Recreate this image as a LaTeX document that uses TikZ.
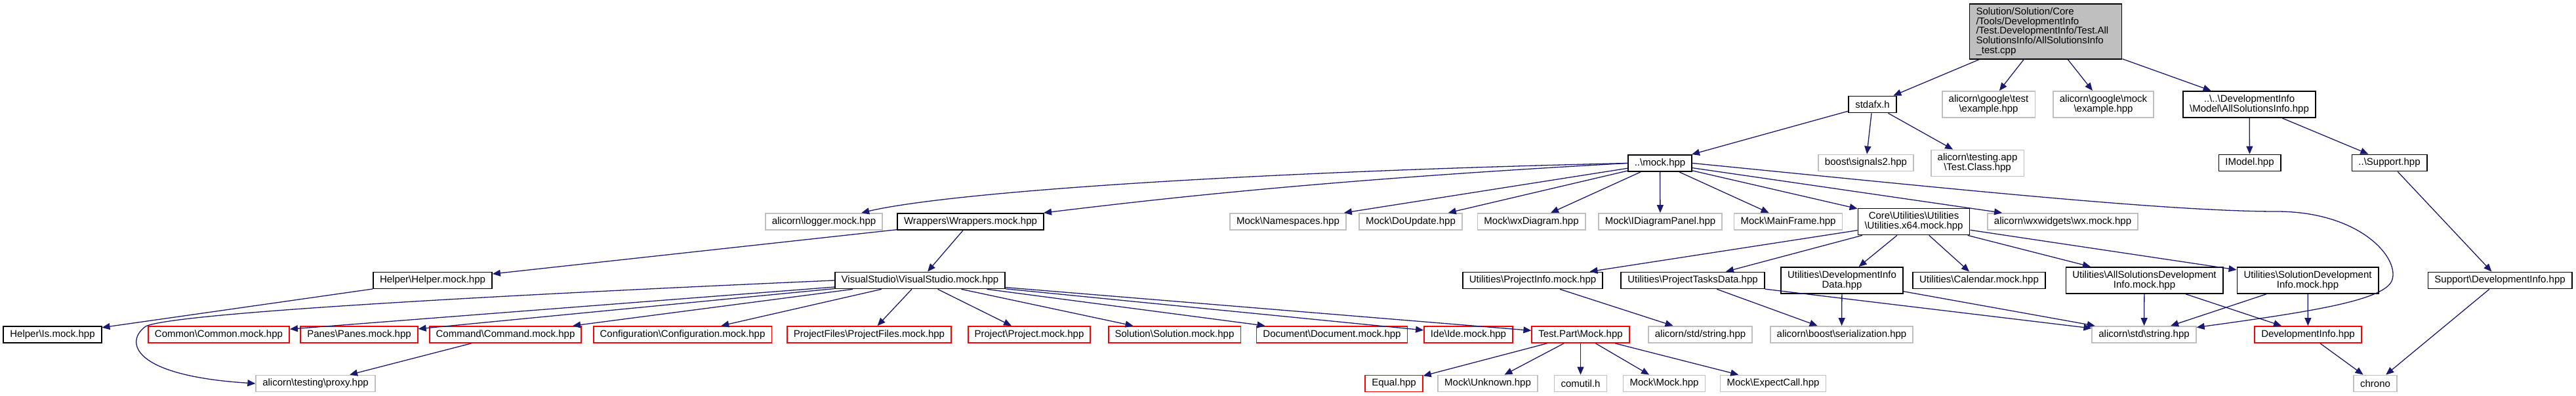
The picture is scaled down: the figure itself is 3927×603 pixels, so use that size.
\documentclass[tikz,border=0pt]{standalone}
\usepackage{fontspec}
\setmainfont{Liberation Sans}
\usetikzlibrary{arrows.meta, positioning}
\definecolor{edgeblue}{HTML}{191970}
\definecolor{extframe}{HTML}{BFBFBF}
\definecolor{rootfill}{HTML}{BFBFBF}

\begin{document}
\begin{tikzpicture}[x=0.5pt, y=-0.5pt,
			every node/.style={font=\fontsize{7.5}{7.4}\selectfont, inner xsep=5pt,
				inner ysep=0pt, minimum height=12.5pt, align=center},
			box/.style={draw=black, line width=0.9pt, fill=white},
			ext/.style={draw=extframe, line width=0.9pt, fill=white},
			miss/.style={draw=red, line width=0.9pt, fill=white},
			twoline/.style={minimum height=20pt},
			arr/.style={-{Triangle[length=6pt, width=5pt]}, draw=edgeblue, line width=0.65pt},
			]
			\useasboundingbox (0,0) rectangle (3927,603);

			% Root
			\node[box, fill=rootfill, minimum height=42pt, text width=106pt, align=left] (root) at (3118.5,48)
			{Solution/Solution/Core\\/Tools/DevelopmentInfo\\/Test.DevelopmentInfo/Test.All\\SolutionsInfo/AllSolutionsInfo\par\centering\_test.cpp};

			% First level
			\node[box] (stdafx) at (2854.5,159) {stdafx.h};
			\node[ext, twoline] (gtest) at (3031.5,159) {alicorn\textbackslash google\textbackslash test\\\textbackslash example.hpp};
			\node[ext, twoline] (gmock) at (3206.5,159) {alicorn\textbackslash google\textbackslash mock\\\textbackslash example.hpp};
			\node[box, twoline] (allinfo) at (3429,159) {..\textbackslash ..\textbackslash DevelopmentInfo\\\textbackslash Model\textbackslash AllSolutionsInfo.hpp};

			% Second level
			\node[box] (mockhpp) at (2530.5,248.5) {..\textbackslash mock.hpp};
			\node[ext] (signals) at (2844.5,248) {boost\textbackslash signals2.hpp};
			\node[ext, twoline] (testclass) at (3014.5,248.5) {alicorn\textbackslash testing.app\\\textbackslash Test.Class.hpp};
			\node[box] (imodel) at (3429.5,248) {IModel.hpp};
			\node[box] (support) at (3642.5,248) {..\textbackslash Support.hpp};

			% Third level
			\node[ext] (logger) at (1256,337.5) {alicorn\textbackslash logger.mock.hpp};
			\node[box] (wrappers) at (1479.5,337.5) {Wrappers\textbackslash Wrappers.mock.hpp};
			\node[ext] (namespaces) at (1963.5,337.5) {Mock\textbackslash Namespaces.hpp};
			\node[ext] (doupdate) at (2150.5,337.5) {Mock\textbackslash DoUpdate.hpp};
			\node[ext] (wxdiagram) at (2334.5,337.5) {Mock\textbackslash wxDiagram.hpp};
			\node[ext] (diagpanel) at (2531,337.5) {Mock\textbackslash IDiagramPanel.hpp};
			\node[ext] (mainframe) at (2726,337.5) {Mock\textbackslash MainFrame.hpp};
			\node[box, twoline] (utilx) at (2917.5,337.5) {Core\textbackslash Utilities\textbackslash Utilities\\\textbackslash Utilities.x64.mock.hpp};
			\node[ext] (wxmock) at (3144.5,337.5) {alicorn\textbackslash wxwidgets\textbackslash wx.mock.hpp};

			% Fourth level
			\node[box] (helper) at (659.5,427) {Helper\textbackslash Helper.mock.hpp};
			\node[box] (vstudio) at (1402.5,427) {VisualStudio\textbackslash VisualStudio.mock.hpp};
			\node[box] (projinfo) at (2336.5,427) {Utilities\textbackslash ProjectInfo.mock.hpp};
			\node[box] (tasks) at (2580.5,427) {Utilities\textbackslash ProjectTasksData.hpp};
			\node[box, twoline] (devdata) at (2808,427) {Utilities\textbackslash DevelopmentInfo\\Data.hpp};
			\node[box] (calendar) at (3017,427) {Utilities\textbackslash Calendar.mock.hpp};
			\node[box, twoline] (alldev) at (3269,427) {Utilities\textbackslash AllSolutionsDevelopment\\Info.mock.hpp};
			\node[box, twoline] (soldev) at (3518,427) {Utilities\textbackslash SolutionDevelopment\\Info.mock.hpp};
			\node[box] (supdev) at (3811,427) {Support\textbackslash DevelopmentInfo.hpp};

			% Fifth level
			\node[box] (ismock) at (80,509.5) {Helper\textbackslash Is.mock.hpp};
			\node[miss] (common) at (333.5,509.5) {Common\textbackslash Common.mock.hpp};
			\node[miss] (panes) at (547.5,509.5) {Panes\textbackslash Panes.mock.hpp};
			\node[miss] (command) at (770.5,509.5) {Command\textbackslash Command.mock.hpp};
			\node[miss] (config) at (1040.5,509.5) {Configuration\textbackslash Configuration.mock.hpp};
			\node[miss] (projfiles) at (1325,509.5) {ProjectFiles\textbackslash ProjectFiles.mock.hpp};
			\node[miss] (project) at (1569,509.5) {Project\textbackslash Project.mock.hpp};
			\node[miss] (solution) at (1790.5,509.5) {Solution\textbackslash Solution.mock.hpp};
			\node[miss] (document) at (2030.5,509.5) {Document\textbackslash Document.mock.hpp};
			\node[miss] (ide) at (2238.5,509.5) {Ide\textbackslash Ide.mock.hpp};
			\node[miss] (testpart) at (2409.5,509.5) {Test.Part\textbackslash Mock.hpp};
			\node[ext] (strslash) at (2592,509.5) {alicorn/std/string.hpp};
			\node[ext] (serial) at (2807.5,509.5) {alicorn\textbackslash boost\textbackslash serialization.hpp};
			\node[ext] (strhpp) at (3268.5,509.5) {alicorn\textbackslash std\textbackslash string.hpp};
			\node[miss] (devinfo) at (3518.5,509.5) {DevelopmentInfo.hpp};

			% Last level
			\node[ext] (proxy) at (481,584) {alicorn\textbackslash testing\textbackslash proxy.hpp};
			\node[miss] (equal) at (2125,584) {Equal.hpp};
			\node[ext] (unknown) at (2268,584) {Mock\textbackslash Unknown.hpp};
			\node[ext] (comutil) at (2409.5,584) {comutil.h};
			\node[ext] (mockmock) at (2537,584) {Mock\textbackslash Mock.hpp};
			\node[ext] (expect) at (2703,584) {Mock\textbackslash ExpectCall.hpp};
			\node[ext] (chrono) at (3621,584) {chrono};

			% Arrows from the test file
			\draw[arr] (root) -- (stdafx);
			\draw[arr] (root) -- (gtest);
			\draw[arr] (root) -- (gmock);
			\draw[arr] (root) -- (allinfo);
			\draw[arr] (stdafx) -- (mockhpp);
			\draw[arr] (stdafx) -- (signals);
			\draw[arr] (stdafx) -- (testclass);
			\draw[arr] (allinfo) -- (imodel);
			\draw[arr] (allinfo) -- (support);
			\draw[arr] (support) -- (supdev);
			\draw[arr] (supdev) -- (chrono);

			% Arrows from mock.hpp
			\draw[arr] (mockhpp.west) .. controls (1900,262) and (1450,292) .. (logger);
			\draw[arr] (mockhpp.west) .. controls (2000,275) and (1750,305) .. (wrappers);
			\draw[arr] (mockhpp) -- (namespaces);
			\draw[arr] (mockhpp) -- (doupdate);
			\draw[arr] (mockhpp) -- (wxdiagram);
			\draw[arr] (mockhpp) -- (diagpanel);
			\draw[arr] (mockhpp) -- (mainframe);
			\draw[arr] (mockhpp) -- (utilx);
			\draw[arr] (mockhpp) -- (wxmock);
			\draw[arr] (mockhpp.east) .. controls (2950,285) and (3300,322) .. (3470,322)
				.. controls (3600,322) and (3660,395) .. (3646,428)
				.. controls (3632,458) and (3520,475) .. (strhpp);

			% Wrappers and Visual Studio
			\draw[arr] (wrappers) -- (helper);
			\draw[arr] (wrappers) -- (vstudio);
			\draw[arr] (helper) -- (ismock);
			\draw[arr] (vstudio.west) .. controls (700,452) and (260,478) .. (222,497)
				.. controls (190,520) and (200,572) .. (proxy.west);
			\draw[arr] (vstudio) -- (common);
			\draw[arr] (vstudio) -- (panes);
			\draw[arr] (vstudio) -- (command);
			\draw[arr] (vstudio) -- (config);
			\draw[arr] (vstudio) -- (projfiles);
			\draw[arr] (vstudio) -- (project);
			\draw[arr] (vstudio) -- (solution);
			\draw[arr] (vstudio) -- (document);
			\draw[arr] (vstudio) -- (ide);
			\draw[arr] (vstudio) -- (testpart);
			\draw[arr] (command) -- (proxy);
			\draw[arr] (testpart) -- (equal);
			\draw[arr] (testpart) -- (unknown);
			\draw[arr] (testpart) -- (comutil);
			\draw[arr] (testpart) -- (mockmock);
			\draw[arr] (testpart) -- (expect);

			% Utilities
			\draw[arr] (utilx) -- (projinfo);
			\draw[arr] (utilx) -- (tasks);
			\draw[arr] (utilx) -- (devdata);
			\draw[arr] (utilx) -- (calendar);
			\draw[arr] (utilx) -- (alldev);
			\draw[arr] (utilx) -- (soldev);
			\draw[arr] (projinfo) -- (strslash);
			\draw[arr] (tasks) -- (serial);
			\draw[arr] (tasks) -- (strhpp);
			\draw[arr] (devdata) -- (serial);
			\draw[arr] (devdata) -- (strhpp);
			\draw[arr] (alldev) -- (strhpp);
			\draw[arr] (alldev) -- (devinfo);
			\draw[arr] (soldev) -- (strhpp);
			\draw[arr] (soldev) -- (devinfo);
			\draw[arr] (devinfo) -- (chrono);
		\end{tikzpicture}
\end{document}
